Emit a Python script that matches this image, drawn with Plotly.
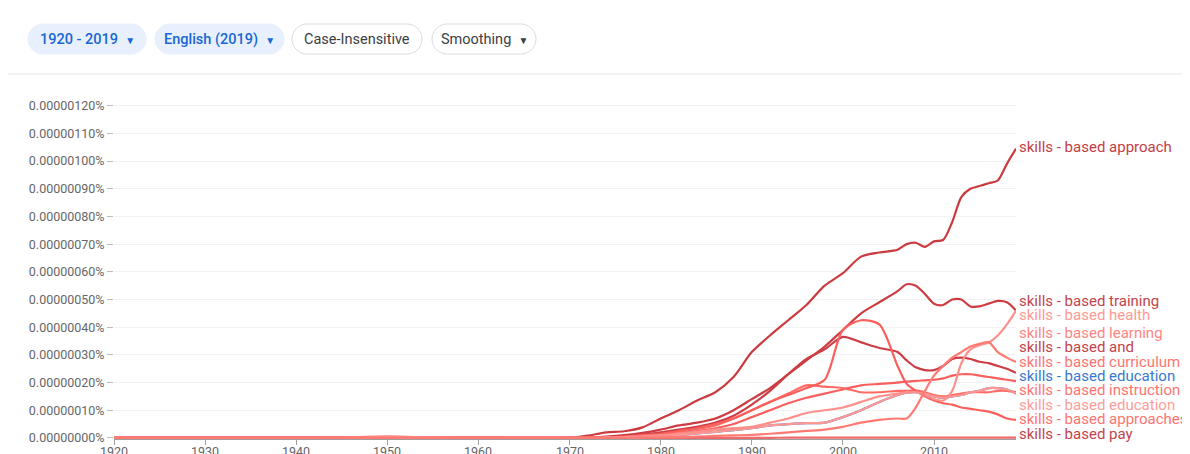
import numpy as np
import plotly.graph_objects as go

# years (5-yr steps early, 2-yr mid, yearly late)
years = [1920, 1925, 1930, 1935, 1940, 1945, 1950, 1955, 1960, 1965,
         1970, 1972, 1974, 1976, 1978, 1980, 1982, 1984, 1986, 1988,
         1990, 1992, 1994, 1996, 1998, 2000, 2002, 2004, 2006,
         2007, 2008, 2009, 2010, 2011, 2012, 2013, 2014, 2015, 2016, 2017, 2018, 2019]
decades = list(range(1920, 2020, 10))

# values in units of 0.00000001 %
approach = [0, 0, 0, 0, 0, 0, 0.1, 0, 0, 0,
            0, 0.8, 2, 2.4, 3.8, 7, 10, 13.5, 16.5, 22,
            31, 37, 42.5, 48, 55, 59.5, 65.5, 67, 68,
            70, 70.5, 69, 71, 71.5, 78, 87, 90, 91, 92, 93, 99, 104.5]
training = [0, 0, 0, 0, 0, 0, 0, 0, 0, 0,
            0, 0.2, 0.5, 1, 1.8, 3, 4.5, 5.5, 7, 10,
            14, 18, 23, 28, 33, 39, 45, 49, 53,
            55.5, 55, 52, 48.5, 48, 50, 50, 47.5, 47.5, 48.5, 49.5, 49, 46]
health = [0, 0, 0, 0, 0, 0, 0.1, 0, 0, 0,
          0, 0, 0.1, 0.3, 0.6, 1, 1.6, 2.2, 3, 3.5,
          4, 5.5, 7, 9, 10, 11, 13, 15, 16,
          16.5, 16.5, 15.5, 14, 13.5, 17, 27, 32, 33.5, 34.5, 37, 41, 46]
learning = [0, 0, 0, 0, 0, 0, 0, 0, 0, 0,
            0, 0, 0, 0, 0.1, 0.2, 0.3, 0.5, 0.7, 0.9,
            1.1, 1.5, 2, 2.5, 3, 4, 5.5, 6.5, 7,
            7, 11, 17, 22.5, 26, 29, 31, 33, 34, 34.6, 31, 29, 27.4]
and_ = [0, 0, 0, 0, 0, 0, 0, 0, 0, 0,
        0, 0.1, 0.3, 0.6, 1.2, 2, 3, 4, 5.5, 8,
        12, 17, 23, 28.5, 32, 36.5, 34.5, 32.5, 31,
        28, 25.5, 24.5, 24.5, 26, 28.5, 29, 28.5, 27.5, 27, 26, 25, 23.5]
curriculum = [0, 0, 0, 0, 0, 0.2, 0.5, 0.2, 0.1, 0.2,
              0, 0, 0.1, 0.3, 0.6, 1, 1.8, 2.5, 3.5, 5,
              7.5, 10, 12.5, 14.5, 16, 17.5, 19, 19.5, 20,
              20.3, 20.6, 20.8, 21, 21.5, 22.5, 23, 23, 22.5, 22, 21.5, 21, 20.5]
instruction = [0, 0, 0, 0, 0, 0.2, 0.4, 0.2, 0.1, 0.1,
               0, 0, 0.1, 0.3, 0.7, 1.3, 2.2, 3.2, 4.5, 7,
               10, 13, 16, 19, 18.5, 18, 16.5, 16.5, 17,
               17, 17.2, 16.5, 15.5, 15, 15.5, 16, 16.5, 16.5, 16.5, 17, 17, 16.5]
education = [0, 0, 0, 0, 0, 0, 0.2, 0.1, 0, 0.1,
             0, 0, 0, 0.1, 0.3, 0.6, 1, 1.6, 2.2, 2.8,
             3.5, 4.5, 5, 5.3, 5.5, 7.5, 10, 13, 15.5,
             16.3, 16.5, 16, 15, 14.5, 15, 15.5, 16.5, 17, 18, 18, 17.5, 16]
approaches = [0, 0, 0, 0, 0, 0, 0, 0, 0, 0,
              0, 0, 0.2, 0.5, 1, 1.5, 2.5, 3.5, 5, 7,
              10, 13, 15.5, 18, 21, 39, 42.5, 41, 26,
              19.5, 17, 15, 13.5, 12.5, 12, 11, 10.5, 10, 9.5, 8.5, 7, 6.5]
pay = [0, 0, 0, 0, 0, 0, 0, 0, 0, 0,
       0, 0, 0, 0, 0, 0, 0, 0, 0, 0,
       0, 0, 0.1, 0.1, 0.1, 0.1, 0.1, 0.1, 0.1,
       0.1, 0.1, 0.1, 0.1, 0.1, 0.1, 0.1, 0.1, 0.1, 0.1, 0.1, 0.1, 0.1]

# (label, values, line colour, label colour, label y) - label order as in the picture
series = [
    ("skills - based approach", approach, "#cb3a3f", "#c63c44", 105),
    ("skills - based training", training, "#cd3c42", "#c4434c", 49.5),
    ("skills - based health", health, "#ff8f8a", "#ff9a95", 44.4),
    ("skills - based learning", learning, "#ff7a73", "#ff8581", 37.9),
    ("skills - based and", and_, "#cc3d45", "#c4434c", 32.9),
    ("skills - based curriculum", curriculum, "#f95f5f", "#ff7470", 27.4),
    ("skills - based education", education, "#3a78d0", "#3a78d0", 22.4),
    ("skills - based instruction", instruction, "#ff6b66", "#ff7470", 17.3),
    ("skills - based education", education, "#ff9793", "#ff9d99", 11.9),
    ("skills - based approaches", approaches, "#f9605c", "#ff7470", 6.9),
    ("skills - based pay", pay, "#ee6a6a", "#c4434c", 1.4),
]
draw_order = [6, 10, 0, 1, 4, 5, 7, 9, 8, 2, 3]

# the page body adds an 8px margin, so the figure is drawn 8px smaller
OFF = 8
W, H = 1190 - OFF, 454 - OFF
L, R, T, B = 106, 174, 95, 15
PW, PH = W - L - R, H - T - B


def xp(x):
    # screen pixel -> paper fraction
    return (x - OFF - L) / PW


def yp(y):
    return (H - B - (y - OFF)) / PH


fig = go.Figure()
for i in draw_order:
    name, vals, col, _, _ = series[i]
    fig.add_trace(go.Scatter(
        x=years, y=np.array(vals) * 1e-8, mode="lines", name=name,
        line=dict(color=col, width=2.2, shape="spline", smoothing=0.8),
        hoverinfo="skip", showlegend=False,
    ))

for name, vals, col, tcol, ly in series:
    fig.add_annotation(x=2019, y=ly * 1e-8, xref="x", yref="y", text=name,
                       showarrow=False, xanchor="left", yanchor="middle", xshift=1,
                       font=dict(family="Roboto, Arial", size=15, color=tcol))

# year labels sit tight under the axis (the page cuts them off at the bottom)
for yr in decades:
    fig.add_annotation(x=yr, y=0, xref="x", yref="paper", text=str(yr),
                       showarrow=False, xanchor="center", yanchor="top", yshift=-3,
                       font=dict(family="Roboto, Arial", size=12.5, color="#666666"))


def pill(cx, cy, w, h, fill, line):
    a, b, r = w / 2, h / 2, h / 2
    c = 0.5523 * r
    path = (f"M {-a + r},{-b} L {a - r},{-b} "
            f"C {a - r + c},{-b} {a},{-b + r - c} {a},{-b + r} "
            f"L {a},{b - r} C {a},{b - r + c} {a - r + c},{b} {a - r},{b} "
            f"L {-a + r},{b} C {-a + r - c},{b} {-a},{b - r + c} {-a},{b - r} "
            f"L {-a},{-b + r} C {-a},{-b + r - c} {-a + r - c},{-b} {-a + r},{-b} Z")
    fig.add_shape(type="path", path=path, xref="paper", yref="paper",
                  xsizemode="pixel", ysizemode="pixel",
                  xanchor=xp(cx), yanchor=yp(cy),
                  fillcolor=fill, line=dict(color=line, width=1), layer="above")


buttons = [
    ("1920 - 2019", True, 87, 118, True),
    ("English (2019)", True, 219.5, 129, True),
    ("Case-Insensitive", False, 357, 130, False),
    ("Smoothing", False, 484, 104, True),
]
for text, active, cx, w, arrow in buttons:
    fill = "#e8f0fe" if active else "white"
    border = "#e8f0fe" if active else "#dadce0"
    tcol = "#1967d2" if active else "#3c4043"
    pill(cx, 39, w, 30, fill, border)
    label = text + ("  <span style='font-size:10px'>▼</span>" if arrow else "")
    fig.add_annotation(x=xp(cx), y=yp(39), xref="paper", yref="paper", text=label,
                       showarrow=False, xanchor="center", yanchor="middle",
                       font=dict(family="Roboto, Arial", size=14.5, color=tcol,
                                 weight=500 if active else 400))

fig.add_shape(type="line", xref="paper", yref="paper", x0=xp(8), x1=xp(1190),
              y0=yp(74), y1=yp(74), line=dict(color="#e6e6e6", width=1))

ytick_vals = [i * 1e-7 for i in range(13)]
fig.update_xaxes(range=[1920, 2019], tickvals=decades, showticklabels=False,
                 showgrid=False, zeroline=False, showline=True, linecolor="#9e9e9e",
                 ticks="outside", ticklen=5, tickcolor="#9e9e9e",
                 automargin=False, fixedrange=True)
fig.update_yaxes(range=[-0.4e-8, 121e-8], tickvals=ytick_vals,
                 ticktext=[f"{v:.8f}%" for v in ytick_vals],
                 showgrid=True, gridcolor="#f2f2f2",
                 zeroline=False, showline=False, ticks="outside", ticklen=6,
                 tickcolor="#bdbdbd", tickfont=dict(family="Roboto, Arial", size=12.5, color="#666666"),
                 automargin=False, fixedrange=True)

fig.update_layout(width=W, height=H, margin=dict(l=L, r=R, t=T, b=B),
                  paper_bgcolor="white", plot_bgcolor="white", showlegend=False)

fig.write_html("out.html")
